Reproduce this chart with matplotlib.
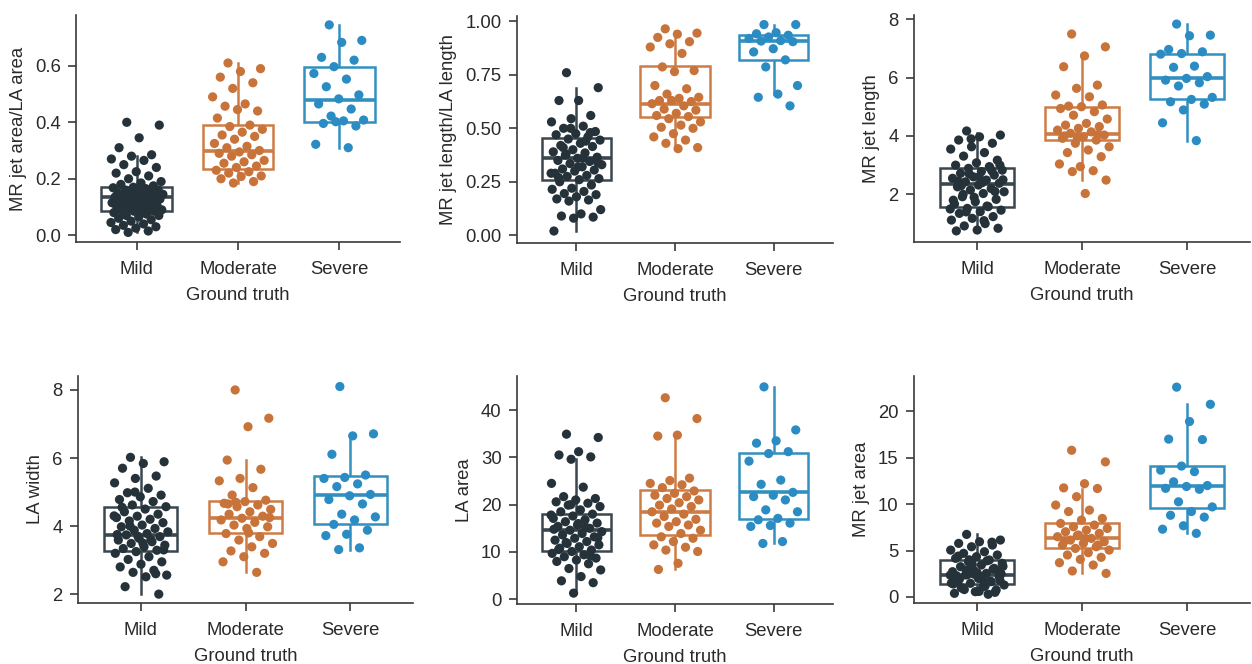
import numpy as np
import matplotlib
matplotlib.use("Agg")
import matplotlib.pyplot as plt

plt.rcParams['font.family'] = ['Liberation Sans', 'DejaVu Sans']

categories = ["Mild", "Moderate", "Severe"]
xlabel = "Ground truth"

# ---------------- Panel 1: MR jet area / LA area ----------------
p1_mild = [0.40, 0.39, 0.345, 0.31, 0.285, 0.28, 0.27, 0.265, 0.25, 0.24, 0.225, 0.22, 0.21,
           0.20, 0.19, 0.185, 0.18, 0.175, 0.17, 0.168, 0.165, 0.16, 0.16, 0.155, 0.15, 0.15,
           0.148, 0.145, 0.14, 0.14, 0.138, 0.135, 0.135, 0.13, 0.13, 0.128, 0.125, 0.12, 0.12,
           0.118, 0.115, 0.11, 0.11, 0.105, 0.10, 0.10, 0.098, 0.095, 0.09, 0.09, 0.088, 0.085,
           0.085, 0.08, 0.075, 0.07, 0.07, 0.065, 0.06, 0.055, 0.05, 0.045, 0.04, 0.035, 0.03,
           0.025, 0.02, 0.015, 0.01]
p1_mod = [0.61, 0.59, 0.58, 0.56, 0.54, 0.52, 0.49, 0.465, 0.457, 0.44, 0.445, 0.415, 0.39,
          0.385, 0.375, 0.365, 0.355, 0.35, 0.34, 0.325, 0.315, 0.31, 0.30, 0.295, 0.29, 0.285,
          0.28, 0.265, 0.26, 0.255, 0.245, 0.24, 0.23, 0.225, 0.22, 0.21, 0.208, 0.20, 0.19, 0.185]
p1_sev = [0.745, 0.69, 0.683, 0.63, 0.62, 0.597, 0.573, 0.553, 0.526, 0.497, 0.483, 0.465,
          0.447, 0.422, 0.408, 0.405, 0.396, 0.387, 0.402, 0.322, 0.31]
p1_box = dict(q1=[0.085, 0.235, 0.40], med=[0.135, 0.30, 0.48], q3=[0.17, 0.39, 0.597],
              lo=[0.01, 0.185, 0.31], hi=[0.28, 0.61, 0.745])

# ---------------- Panel 2: MR jet length / LA length ----------------
p2_mild = [0.76, 0.69, 0.63, 0.63, 0.56, 0.545, 0.53, 0.51, 0.50, 0.485, 0.475, 0.47, 0.46,
           0.45, 0.445, 0.43, 0.42, 0.415, 0.40, 0.39, 0.385, 0.375, 0.365, 0.36, 0.35, 0.345,
           0.335, 0.33, 0.32, 0.31, 0.305, 0.30, 0.29, 0.28, 0.275, 0.265, 0.26, 0.25, 0.235,
           0.22, 0.215, 0.205, 0.195, 0.19, 0.18, 0.17, 0.165, 0.16, 0.12, 0.10, 0.09, 0.085,
           0.08, 0.02, 0.44, 0.38, 0.34, 0.32, 0.27, 0.48, 0.50, 0.29, 0.36, 0.41]
p2_mod = [0.965, 0.945, 0.94, 0.925, 0.905, 0.895, 0.88, 0.85, 0.787, 0.77, 0.765, 0.70, 0.685,
          0.66, 0.645, 0.64, 0.63, 0.625, 0.63, 0.615, 0.605, 0.59, 0.585, 0.57, 0.56, 0.555,
          0.545, 0.53, 0.515, 0.505, 0.50, 0.475, 0.46, 0.445, 0.43, 0.41, 0.405]
p2_sev = [0.985, 0.985, 0.947, 0.942, 0.935, 0.927, 0.92, 0.91, 0.908, 0.905, 0.872, 0.857,
          0.82, 0.787, 0.70, 0.66, 0.645, 0.605]
p2_box = dict(q1=[0.26, 0.555, 0.82], med=[0.36, 0.615, 0.91], q3=[0.455, 0.79, 0.935],
              lo=[0.02, 0.405, 0.66], hi=[0.69, 0.955, 0.985])

# ---------------- Panel 3: MR jet length ----------------
p3_mild = [4.17, 4.03, 3.97, 3.86, 3.75, 3.63, 3.55, 3.43, 3.31, 3.17, 3.08, 3.0, 2.95, 2.89,
           2.83, 2.78, 2.72, 2.66, 2.6, 2.55, 2.49, 2.43, 2.38, 2.32, 2.26, 2.2, 2.15, 2.09,
           2.03, 1.92, 1.83, 1.75, 1.67, 1.58, 1.52, 1.46, 1.41, 1.35, 1.24, 1.18, 1.12, 1.0,
           0.92, 0.84, 0.78, 0.75, 2.9, 2.7, 2.5, 2.4, 2.3, 2.1, 1.9, 1.8, 1.6, 1.4, 3.0, 2.6,
           2.45, 2.8, 3.9, 1.5, 1.1, 2.0]
p3_mod = [7.49, 7.05, 6.74, 6.37, 5.74, 5.63, 5.40, 5.34, 5.02, 5.06, 5.0, 4.94, 4.83, 4.71,
          4.58, 4.43, 4.37, 4.32, 4.26, 4.2, 4.14, 4.09, 4.03, 3.97, 3.92, 3.86, 3.75, 3.63,
          3.52, 3.43, 3.29, 2.95, 3.04, 2.81, 2.78, 2.49, 2.03, 4.0, 4.05, 3.95]
p3_sev = [7.83, 7.45, 7.43, 6.96, 6.88, 6.82, 6.80, 6.39, 6.35, 6.03, 5.97, 5.91, 5.82, 5.71,
          5.32, 5.25, 5.17, 5.09, 4.89, 4.45, 3.84]
p3_box = dict(q1=[1.57, 3.85, 5.25], med=[2.37, 4.07, 6.0], q3=[2.9, 5.0, 6.82],
              lo=[0.75, 2.49, 3.84], hi=[4.1, 6.74, 7.83])

# ---------------- Panel 4: LA width ----------------
p4_mild = [6.02, 5.89, 5.84, 5.70, 5.47, 5.40, 5.27, 5.11, 4.98, 4.91, 4.86, 4.78, 4.72, 4.62,
           4.57, 4.5, 4.42, 4.35, 4.29, 4.25, 4.2, 4.15, 4.1, 4.03, 3.98, 3.93, 3.88, 3.83,
           3.78, 3.74, 3.69, 3.64, 3.59, 3.54, 3.49, 3.44, 3.39, 3.34, 3.29, 3.25, 3.2, 3.1,
           3.02, 2.95, 2.88, 2.8, 2.7, 2.64, 2.56, 2.51, 2.22, 2.0, 3.7, 3.75, 3.6, 4.0, 3.3,
           3.5, 4.55, 2.6, 5.0, 4.3]
p4_mod = [8.0, 7.17, 6.92, 5.94, 5.67, 5.40, 5.33, 5.13, 4.91, 4.76, 4.72, 4.67, 4.62, 4.57,
          4.49, 4.42, 4.35, 4.29, 4.23, 4.18, 4.11, 4.03, 3.98, 3.93, 3.78, 3.69, 3.59, 3.49,
          3.39, 3.27, 3.2, 3.1, 2.95, 2.64, 4.7, 4.25, 3.8, 4.65]
p4_sev = [8.1, 6.71, 6.65, 6.11, 5.5, 5.43, 5.40, 5.24, 5.16, 4.93, 4.89, 4.78, 4.65, 4.35,
          4.27, 4.18, 4.05, 3.88, 3.76, 3.72, 3.36, 3.31]
p4_box = dict(q1=[3.28, 3.8, 4.05], med=[3.73, 4.25, 4.92], q3=[4.55, 4.75, 5.47],
              lo=[2.0, 2.64, 3.31], hi=[6.02, 5.94, 6.71])

# ---------------- Panel 5: LA area ----------------
p5_mild = [34.9, 34.2, 31.2, 30.5, 30.1, 29.6, 24.5, 23.7, 21.7, 21.3, 21.0, 20.6, 20.3, 19.9,
           19.6, 18.9, 18.5, 18.0, 17.6, 17.1, 16.8, 16.4, 16.1, 15.7, 15.4, 15.0, 14.6, 14.3,
           13.9, 13.6, 13.2, 12.9, 12.5, 12.2, 11.8, 11.5, 11.1, 10.8, 10.4, 10.1, 9.7, 9.4,
           9.0, 8.7, 8.3, 8.0, 7.5, 6.5, 6.2, 4.8, 3.9, 3.5, 1.3, 14.8, 15.2, 12.0, 13.0,
           16.0, 10.5, 9.2, 20.0, 17.8]
p5_mod = [42.6, 38.2, 34.7, 34.5, 25.6, 25.1, 24.5, 24.2, 23.6, 22.9, 22.4, 22.0, 21.7, 21.3,
          21.0, 20.4, 19.9, 19.6, 19.1, 18.5, 18.0, 17.5, 16.9, 16.4, 16.1, 15.7, 15.4, 14.6,
          13.9, 13.2, 12.9, 12.2, 11.5, 11.0, 10.4, 10.1, 7.6, 6.3]
p5_sev = [44.9, 35.8, 33.5, 33.0, 31.2, 30.8, 29.2, 25.2, 24.3, 22.6, 22.0, 21.7, 21.0, 18.9,
          18.5, 17.1, 16.8, 16.1, 15.6, 15.4, 12.2, 11.8]
p5_box = dict(q1=[10.2, 13.6, 16.9], med=[14.7, 18.5, 22.6], q3=[18.1, 23.0, 31.0],
              lo=[1.3, 6.3, 11.8], hi=[29.6, 34.5, 44.9])

# ---------------- Panel 6: MR jet area ----------------
p6_mild = [6.74, 6.13, 5.95, 5.77, 5.59, 5.41, 5.05, 4.87, 4.7, 4.52, 4.34, 4.16, 3.98, 3.8,
           3.62, 3.44, 3.26, 3.08, 2.9, 2.72, 2.54, 2.37, 2.19, 2.0, 1.83, 1.65, 1.47, 1.29,
           1.11, 0.93, 0.75, 0.57, 0.39, 0.29, 2.4, 2.5, 2.2, 1.9, 3.0, 3.5, 1.5, 1.2, 0.8,
           2.8, 2.6, 2.3, 1.7, 4.0, 3.3, 2.1, 1.0, 0.5, 2.45, 1.4, 3.9, 2.9, 1.8, 0.6, 4.4,
           5.9, 3.7, 2.35, 1.6]
p6_mod = [15.8, 14.55, 12.2, 11.75, 11.68, 10.8, 9.9, 9.35, 9.2, 8.46, 8.28, 7.92, 7.74, 7.56,
          7.38, 7.2, 7.02, 6.85, 6.67, 6.49, 6.31, 6.13, 5.95, 5.77, 5.59, 5.41, 5.23, 5.05,
          4.77, 4.52, 4.27, 4.05, 3.69, 3.44, 2.8, 2.54, 6.3, 6.0, 5.6, 6.6]
p6_sev = [22.6, 20.75, 18.9, 17.0, 16.95, 14.1, 13.66, 13.5, 12.4, 12.0, 11.9, 11.7, 11.6,
          10.25, 9.7, 9.2, 8.8, 8.6, 7.67, 7.3, 6.85]
p6_box = dict(q1=[1.4, 5.3, 9.6], med=[2.4, 6.3, 11.9], q3=[3.95, 8.0, 14.1],
              lo=[0.29, 2.54, 6.85], hi=[6.74, 11.6, 20.75])

panels = [
    ("MR jet area/LA area", [p1_mild, p1_mod, p1_sev], p1_box, (-0.024, 0.78),
     [0.0, 0.2, 0.4, 0.6], ["0.0", "0.2", "0.4", "0.6"]),
    ("MR jet length/LA length", [p2_mild, p2_mod, p2_sev], p2_box, (-0.036, 1.025),
     [0.0, 0.25, 0.5, 0.75, 1.0], ["0.00", "0.25", "0.50", "0.75", "1.00"]),
    ("MR jet length", [p3_mild, p3_mod, p3_sev], p3_box, (0.37, 8.14),
     [2, 4, 6, 8], ["2", "4", "6", "8"]),
    ("LA width", [p4_mild, p4_mod, p4_sev], p4_box, (1.74, 8.41),
     [2, 4, 6, 8], ["2", "4", "6", "8"]),
    ("LA area", [p5_mild, p5_mod, p5_sev], p5_box, (-1.0, 47.2),
     [0, 10, 20, 30, 40], ["0", "10", "20", "30", "40"]),
    ("MR jet area", [p6_mild, p6_mod, p6_sev], p6_box, (-0.65, 23.8),
     [0, 5, 10, 15, 20], ["0", "5", "10", "15", "20"]),
]

# axes rectangles in pixels: left, right, top, bottom
W, H = 1252, 664
rects_px = [(76, 400, 15, 242), (517, 833, 16, 243), (914, 1250, 15, 242),
            (78, 413, 376, 603), (517, 833, 376, 604), (914, 1250, 376, 603)]

point_colors = ["#26323a", "#c8733a", "#2b8cc4"]
line_colors = ["#3a474f", "#cd7c45", "#3190c0"]
axis_color = "#3a3a3a"
text_color = "#2a2a2a"
FS = 13.3

fig = plt.figure(figsize=(W / 100, H / 100), dpi=100)

for (ylabel, groups, box, ylim, yticks, yticklabels), (l, r, t, b) in zip(panels, rects_px):
    ax = fig.add_axes([l / W, 1 - b / H, (r - l) / W, (b - t) / H])
    stats = []
    for i in range(3):
        stats.append(dict(q1=box["q1"][i], med=box["med"][i], q3=box["q3"][i],
                          whislo=box["lo"][i], whishi=box["hi"][i], fliers=[]))
    bp = ax.bxp(stats, positions=[0, 1, 2], widths=0.7, showfliers=False, showcaps=False,
                patch_artist=True, manage_ticks=False)
    for i in range(3):
        bp["boxes"][i].set(facecolor="white", edgecolor=line_colors[i], linewidth=1.8, zorder=2)
        bp["medians"][i].set(color=line_colors[i], linewidth=2.6, zorder=2)
        for w in bp["whiskers"][2 * i:2 * i + 2]:
            w.set(color=line_colors[i], linewidth=1.8, zorder=1)
    for i, vals in enumerate(groups):
        n = len(vals)
        idx = np.arange(n)
        offs = ((idx * 0.6180339887 + 0.31) % 1.0 - 0.5) * 0.52
        ax.scatter(i + offs, vals, s=44, color=point_colors[i], edgecolors="none", zorder=3)
    ax.set_xlim(-0.6, 2.6)
    ax.set_ylim(*ylim)
    ax.set_xticks([0, 1, 2])
    ax.set_xticklabels(categories, fontsize=FS, color=text_color)
    ax.set_yticks(yticks)
    ax.set_yticklabels(yticklabels, fontsize=FS, color=text_color)
    ax.set_xlabel(xlabel, fontsize=FS, color=text_color, labelpad=6)
    ax.set_ylabel(ylabel, fontsize=FS, color=text_color, labelpad=6)
    for s in ["top", "right"]:
        ax.spines[s].set_visible(False)
    for s in ["left", "bottom"]:
        ax.spines[s].set_color(axis_color)
        ax.spines[s].set_linewidth(1.2)
    ax.tick_params(axis="x", colors=axis_color, length=6, width=1.2, pad=8,
                   labelcolor=text_color)
    ax.tick_params(axis="y", colors=axis_color, length=6, width=1.2, pad=5,
                   labelcolor=text_color)

fig.savefig("out.png", dpi=100, facecolor="white")
